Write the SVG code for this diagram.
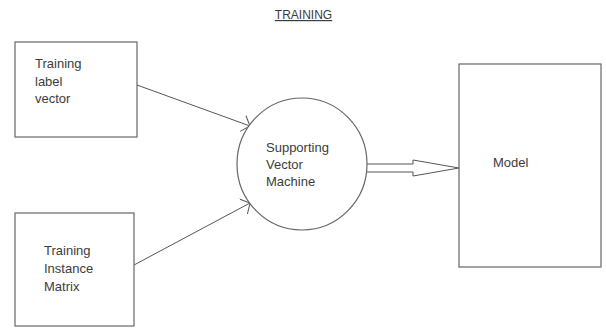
<svg xmlns="http://www.w3.org/2000/svg" width="606" height="328" viewBox="0 0 606 328">
<style>
.box{fill:#fff;stroke:#666;stroke-width:1.2}
.ln{fill:none;stroke:#555;stroke-width:1}
.t{font-family:"Liberation Sans",Arial,sans-serif;font-size:13px;fill:#3c3c3c}
.title{font-family:"Liberation Sans",Arial,sans-serif;font-size:12px;fill:#3c3c3c;text-decoration:underline}
</style>
<defs>
<marker id="open" viewBox="0 0 8 18" refX="7.5" refY="9" markerWidth="8" markerHeight="18" markerUnits="userSpaceOnUse" orient="auto">
<path d="M0,0.5 L7.5,9 L0,17.5" fill="none" stroke="#555" stroke-width="1"/>
</marker>
</defs>
<rect width="606" height="328" fill="#fff"/>
<text class="title" x="303.5" y="19" text-anchor="middle">TRAINING</text>
<g id="connectors">
<line class="ln" x1="137" y1="85" x2="250" y2="126" marker-end="url(#open)"/>
<line class="ln" x1="134" y1="265" x2="250" y2="203" marker-end="url(#open)"/>
<path class="ln" d="M366,164 L413,164 L413,160 L459,168 L413,176 L413,172 L366,172" fill="#fff"/>
</g>
<g id="label-vector">
<rect class="box" x="15" y="42" width="122" height="95"/>
<text class="t" x="35" y="68">Training</text>
<text class="t" x="35" y="85.5">label</text>
<text class="t" x="35" y="103">vector</text>
</g>
<g id="instance-matrix">
<rect class="box" x="15" y="213" width="119" height="113"/>
<text class="t" x="44" y="255">Training</text>
<text class="t" x="44" y="273">Instance</text>
<text class="t" x="44" y="291">Matrix</text>
</g>
<g id="svm">
<ellipse class="box" cx="302" cy="164" rx="65" ry="66"/>
<text class="t" x="266" y="152">Supporting</text>
<text class="t" x="266" y="169">Vector</text>
<text class="t" x="266" y="186">Machine</text>
</g>
<g id="model">
<rect class="box" x="459" y="64" width="142" height="203"/>
<text class="t" x="493" y="167">Model</text>
</g>
</svg>
